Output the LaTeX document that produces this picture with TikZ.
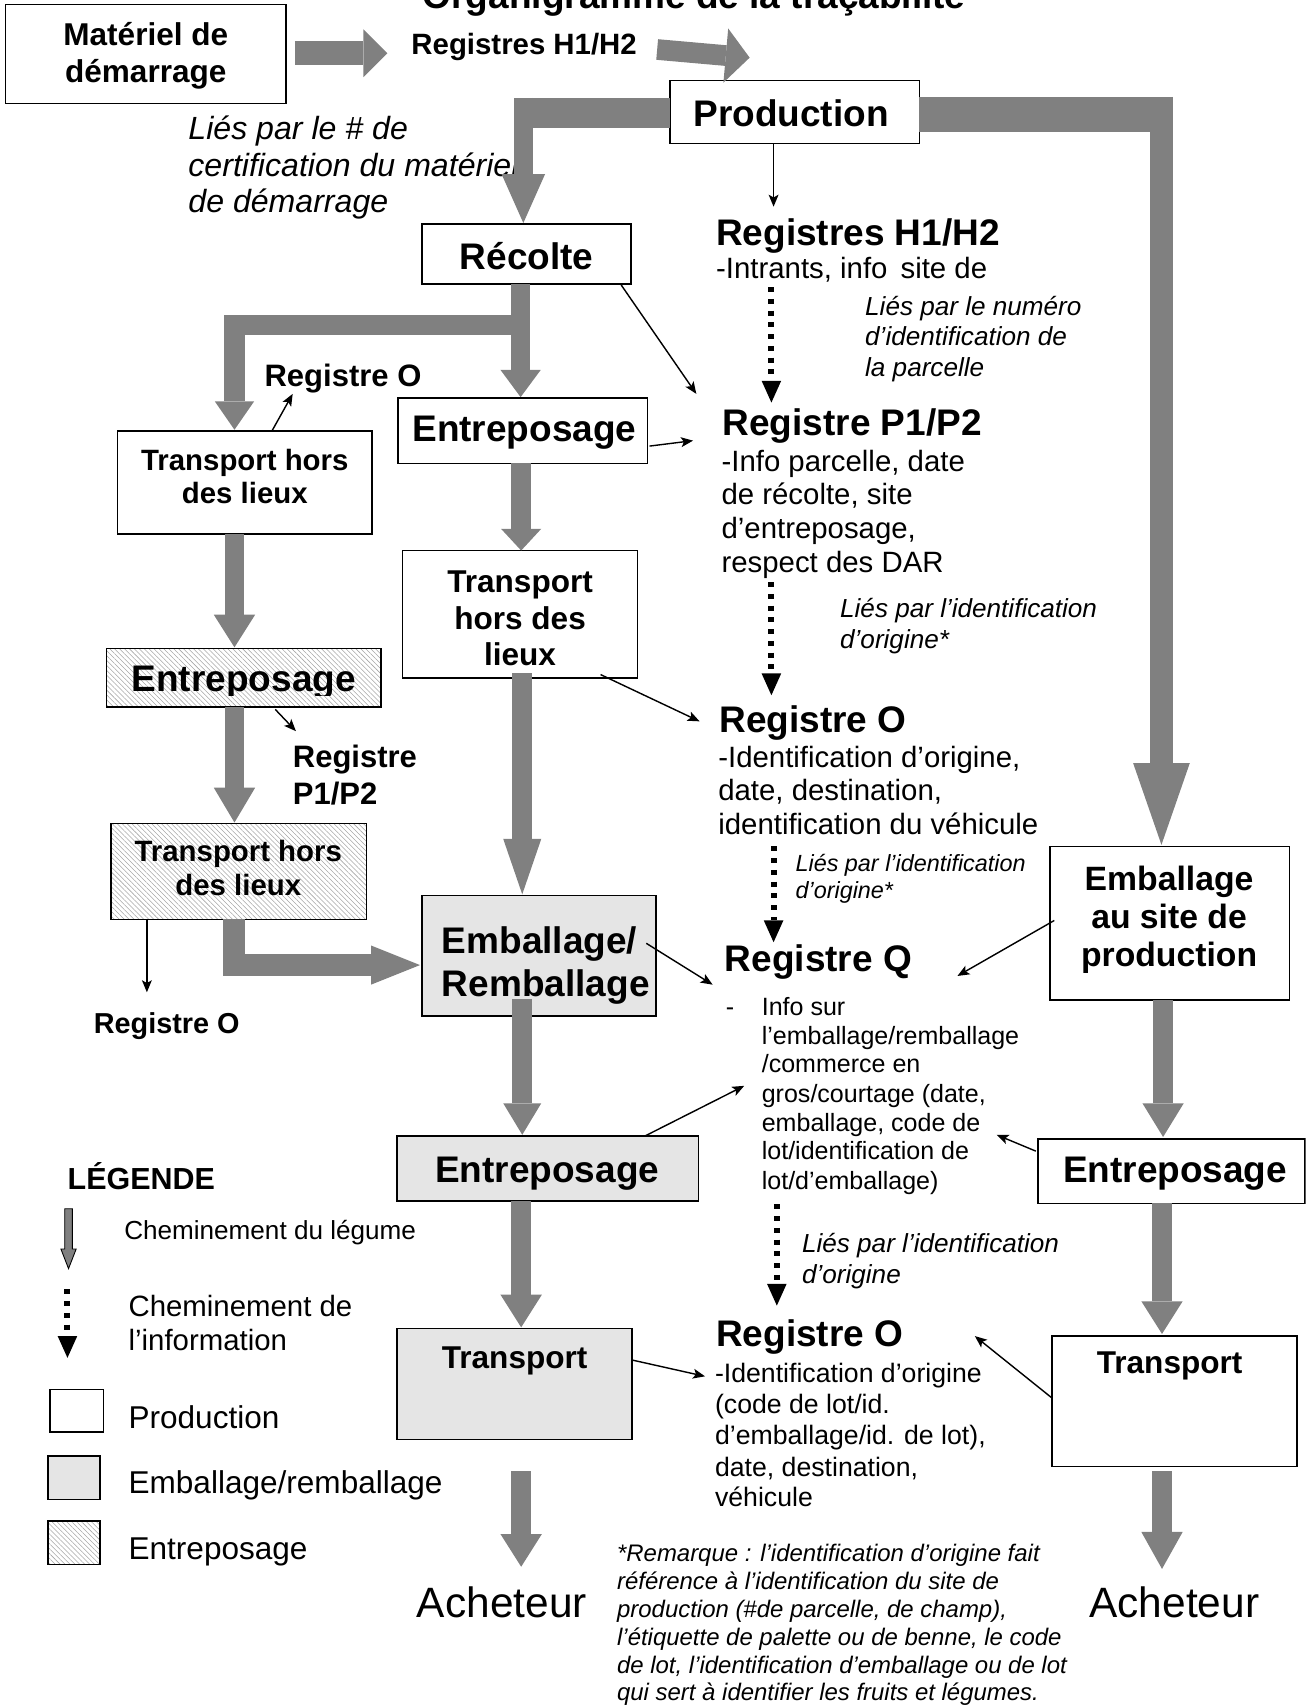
\documentclass[tikz,border=0pt]{standalone}
\usepackage{fontspec}
\setmainfont{Liberation Sans}
\usetikzlibrary{arrows.meta,patterns.meta}
\newcommand\fsz[1]{\fontsize{#1}{#1}\selectfont}
\newcommand\mkbox[6]{\node[#1, minimum width={#5-#3}, minimum height={#6-#4}] (#2) at ({(#3+#5)/2},{(#4+#6)/2}) {};}
\tikzset{
  box/.style={draw, line width=1.4pt, inner sep=0pt, fill=white},
  graybox/.style={box, fill=black!10},
  hatchbox/.style={draw, line width=1.4pt, inner sep=0pt, pattern={Lines[angle=-45,distance=3.2pt,line width=0.5pt]}, pattern color=black!35},
  lbl/.style={inner sep=0pt, anchor=base west},
  ctr/.style={inner sep=0pt, anchor=base},
  fat/.style n args={3}{draw=gray, line width=#1, line cap=butt, -{Triangle[length=#3, width=#2, line width=0pt]}},
  tarr/.style={line width=1.3pt, -{Stealth[length=11pt,width=9pt,inset=2.5pt]}},
  dots/.style={line width=5.5pt, dash pattern=on 4.6pt off 6.2pt, -{Triangle[length=20pt,width=18pt,line width=0pt]}},
  b34/.style={font=\bfseries\fsz{34}},
  b27/.style={font=\bfseries\fsz{27}},
  b29/.style={font=\bfseries\fsz{29}},
  r27/.style={font=\fsz{27}},
  i24/.style={font=\itshape\fsz{24}},
}
\begin{document}
\begin{tikzpicture}[x=1pt,y=-1pt]
\useasboundingbox (0,0) rectangle (1200,1568);
\clip (0,0) rectangle (1200,1568);

% ---------- title ----------
\node[ctr, b34] (title) at (638,8) {Organigramme de la traçabilité};

% ---------- boxes ----------
\mkbox{box}{mat}{5}{4}{263}{95}
\mkbox{box}{prod}{616}{74}{845}{132}
\mkbox{box}{rec}{388}{206}{580}{261}
\mkbox{box}{entM}{366}{366}{595}{426}
\mkbox{box}{trL}{108}{396}{342}{491}
\mkbox{box}{trM}{370}{506}{586}{623}
\mkbox{hatchbox}{entL}{98}{596}{350}{650}
\mkbox{hatchbox}{trLh}{102}{757}{337}{845}
\mkbox{graybox}{emb}{388}{823}{603}{934}
\mkbox{graybox}{entG}{365}{1044}{642}{1104}
\mkbox{graybox}{trG}{365}{1221}{581}{1323}
\mkbox{box}{embS}{965}{778}{1185}{919}
\mkbox{box}{entR}{954}{1047}{1199.3}{1106}
\mkbox{box}{trR}{967}{1228}{1192}{1348}
% legend boxes
\mkbox{box}{legP}{46}{1277}{95}{1316}
\mkbox{graybox}{legE}{44}{1338}{92}{1378}
\mkbox{hatchbox}{legH}{44}{1398}{92}{1438}

% ---------- box texts ----------
\node[ctr, font=\bfseries\fsz{29}] (mat1) at (134,42) {Matériel de};
\node[ctr, font=\bfseries\fsz{29}] (mat2) at (134,76) {démarrage};
\node[ctr, b34] (prodT) at (727,116) {Production};
\node[ctr, b34] (recT) at (484,248) {Récolte};
\node[ctr, b34] (entMT) at (482,406) {Entreposage};
\node[ctr, b27] (trL1) at (225,432) {Transport hors};
\node[ctr, b27] (trL2) at (225,463) {des lieux};
\node[ctr, b29] (trM1) at (478,545) {Transport};
\node[ctr, b29] (trM2) at (478,579) {hors des};
\node[ctr, b29] (trM3) at (478,612) {lieux};
\begin{scope}
  \clip (98,590) rectangle (350,639);
  \node[ctr, b34] (entLT) at (224,636) {Entreposage};
\end{scope}
\node[ctr, b27] (trLh1) at (219,792) {Transport hors};
\node[ctr, b27] (trLh2) at (219,823) {des lieux};
\node[lbl, b34] (emb1) at (406,876) {Emballage/};
\node[lbl, b34] (emb2) at (406,916) {Remballage};
\node[ctr, b34] (entGT) at (503,1087) {Entreposage};
\node[ctr, b29] (trGT) at (473,1258) {Transport};
\node[ctr, font=\bfseries\fsz{31}] (embS1) at (1074.5,818) {Emballage};
\node[ctr, font=\bfseries\fsz{31}] (embS2) at (1074.5,853.5) {au site de};
\node[ctr, font=\bfseries\fsz{31}] (embS3) at (1074.5,888) {production};
\node[ctr, b34] (entRT) at (1080,1087) {Entreposage};
\node[ctr, b29] (trRT) at (1075,1262) {Transport};

% ---------- free labels ----------
\node[lbl, b27] (regTop) at (378,50) {Registres H1/H2};
\node[lbl, font=\itshape\fsz{29.5}] (lie1) at (173,128) {Liés par le \# de};
\node[lbl, font=\itshape\fsz{29.5}] (lie2) at (173,162) {certification du matériel};
\node[lbl, font=\itshape\fsz{29.5}] (lie3) at (173,195) {de démarrage};

\node[lbl, font=\bfseries\fsz{28.5}] (regOa) at (243,355) {Registre O};
\node[lbl, font=\bfseries\fsz{28.5}] (regPa) at (269,705) {Registre};
\node[lbl, font=\bfseries\fsz{28.5}] (regPb) at (269,739) {P1/P2};
\node[lbl, font=\bfseries\fsz{26.5}] (regOb) at (86,950) {Registre O};

% Registres H1/H2
\node[lbl, b34] (h1) at (658,226) {Registres H1/H2};
\node[lbl, r27] (h2) at (658,256) {-Intrants, info\, site de};
\node[lbl, i24] (h3) at (795,290) {Liés par le numéro};
\node[lbl, i24] (h4) at (795,318) {d’identification de};
\node[lbl, i24] (h5) at (795,346) {la parcelle};
% Registre P1/P2
\node[lbl, b34] (p1) at (664,400) {Registre P1/P2};
\node[lbl, r27] (p2) at (663,433) {-Info parcelle, date};
\node[lbl, r27] (p3) at (663,464) {de récolte, site};
\node[lbl, r27] (p4) at (663,495) {d’entreposage,};
\node[lbl, r27] (p5) at (663,526) {respect des DAR};
\node[lbl, i24] (p6) at (772,568) {Liés par l’identification};
\node[lbl, i24] (p7) at (772,596) {d’origine*};
% Registre O
\node[lbl, b34] (o1) at (661,673) {Registre O};
\node[lbl, r27] (o2) at (660,705) {-Identification d’origine,};
\node[lbl, r27] (o3) at (660,736) {date, destination,};
\node[lbl, r27] (o4) at (660,767) {identification du véhicule};
\node[lbl, font=\itshape\fsz{21.5}] (o5) at (731,801) {Liés par l’identification};
\node[lbl, font=\itshape\fsz{21.5}] (o6) at (731,826) {d’origine*};
% Registre Q
\node[lbl, b34] (q1) at (666,893) {Registre Q};
\node[lbl, font=\fsz{23}] (q0) at (667,933) {-};
\node[lbl, font=\fsz{23}] (q2) at (700,933) {Info sur};
\node[lbl, font=\fsz{23}] (q3) at (700,960) {l’emballage/remballage};
\node[lbl, font=\fsz{23}] (q4) at (700,986) {/commerce en};
\node[lbl, font=\fsz{23}] (q5) at (700,1013) {gros/courtage (date,};
\node[lbl, font=\fsz{23}] (q6) at (700,1040) {emballage, code de};
\node[lbl, font=\fsz{23}] (q7) at (700,1066) {lot/identification de};
\node[lbl, font=\fsz{23}] (q8) at (700,1093) {lot/d’emballage)};
\node[lbl, i24] (q9) at (737,1151) {Liés par l’identification};
\node[lbl, i24] (q10) at (737,1180) {d’origine};
% Registre O (bas)
\node[lbl, b34] (ob1) at (658,1238) {Registre O};
\node[lbl, font=\fsz{24.5}] (ob2) at (657,1271) {-Identification d’origine};
\node[lbl, font=\fsz{24.5}] (ob3) at (657,1299) {(code de lot/id.};
\node[lbl, font=\fsz{24.5}] (ob4) at (657,1328) {d’emballage/id. de lot),};
\node[lbl, font=\fsz{24.5}] (ob5) at (657,1357) {date, destination,};
\node[lbl, font=\fsz{24.5}] (ob6) at (657,1385) {véhicule};
% Remarque
\node[lbl, font=\itshape\fsz{22}] (rm1) at (567,1435) {*Remarque : l’identification d’origine fait};
\node[lbl, font=\itshape\fsz{22}] (rm2) at (567,1461) {référence à l’identification du site de};
\node[lbl, font=\itshape\fsz{22}] (rm3) at (567,1487) {production (\#de parcelle, de champ),};
\node[lbl, font=\itshape\fsz{22}] (rm4) at (567,1512) {l’étiquette de palette ou de benne, le code};
\node[lbl, font=\itshape\fsz{22}] (rm5) at (567,1538) {de lot, l’identification d’emballage ou de lot};
\node[lbl, font=\itshape\fsz{22}] (rm6) at (567,1563) {qui sert à identifier les fruits et légumes.};
% Acheteurs
\node[lbl, font=\fsz{39}] (achL) at (383,1487) {Acheteur};
\node[lbl, font=\fsz{39}] (achR) at (1001,1487) {Acheteur};
% Legend
\node[lbl, font=\bfseries\fsz{28}] (leg) at (62,1093) {LÉGENDE};
\node[lbl, font=\fsz{24}] (leg1) at (114,1139) {Cheminement du légume};
\node[lbl, r27] (leg2) at (118,1210) {Cheminement de};
\node[lbl, r27] (leg3) at (118,1241) {l’information};
\node[lbl, font=\fsz{29}] (leg4) at (118,1313) {Production};
\node[lbl, font=\fsz{29}] (leg5) at (118,1373) {Emballage/remballage};
\node[lbl, font=\fsz{29}] (leg6) at (118,1433) {Entreposage};

% ---------- fat grey arrows (flow of the vegetable) ----------
\draw[fat={22pt}{44pt}{22pt}] (271,49) -- (356,49);
\draw[fat={19pt}{50pt}{22pt}] (604,45.5) -- (689,53);
\fill[gray] (472,90) rectangle (616,118);
\draw[fat={18pt}{40pt}{45pt}] (481,90) -- (481,205);
\fill[gray] (845,89) rectangle (1078,121);
\draw[fat={21pt}{52pt}{75pt}] (1067.5,89) -- (1067.5,776.5);
\draw[fat={17.5pt}{37pt}{25pt}] (478.5,261) -- (478.5,365);
\draw[fat={18.5pt}{36pt}{26pt}] (478.5,299) -- (215.5,299) -- (215.5,395);
\draw[fat={18pt}{38pt}{30pt}] (215.5,491) -- (215.5,595);
\draw[fat={18pt}{38pt}{32pt}] (215.5,650) -- (215.5,756);
\draw[fat={19.5pt}{36pt}{45pt}] (215,845) -- (215,887) -- (386,887);
\draw[fat={18pt}{37pt}{20pt}] (479,426) -- (479,506);
\draw[fat={18pt}{35pt}{51pt}] (480,619) -- (480,822);
\draw[fat={18pt}{35pt}{29pt}] (480,918) -- (480,1043);
\draw[fat={18pt}{38pt}{30pt}] (479,1104) -- (479,1220);
\draw[fat={18pt}{38pt}{30pt}] (479,1352) -- (479,1440);
\draw[fat={19pt}{38pt}{31pt}] (1069,919) -- (1069,1045);
\draw[fat={19pt}{38pt}{30pt}] (1068,1106) -- (1068,1226);
\draw[fat={19pt}{38pt}{34pt}] (1068,1352) -- (1068,1442);

% ---------- thin arrows ----------
\draw[tarr] (711,132) -- (711,190);
\draw[tarr] (571,262) -- (640,362);
\draw[tarr] (597,410) -- (637,405);
\draw[tarr] (552,620) -- (643,663);
\draw[tarr] (594,867) -- (655,905);
\draw[tarr] (593,1044) -- (684,998);
\draw[tarr] (969,846) -- (880,897);
\draw[tarr] (952,1058) -- (916,1043);
\draw[tarr] (581,1250) -- (648,1265);
\draw[tarr] (967,1285) -- (896,1228);
\draw[tarr] (250,396) -- (269,362);
\draw[tarr] (253,652) -- (272,672);
\draw[tarr] (135,845) -- (135,912);

% ---------- dotted arrows (flow of information) ----------
\draw[dots] (709,264) -- (709,370);
\draw[dots] (709,535) -- (709,639);
\draw[dots] (711,778) -- (711,866);
\draw[dots] (714,1107) -- (714,1200);
\draw[dots] (62,1185) -- (62,1248);

% legend grey arrow
\draw[fill=gray, line width=0.8pt] (59.5,1111) -- (66.5,1111) -- (66.5,1148) -- (70,1148) -- (63,1166) -- (56,1148) -- (59.5,1148) -- cycle;
\end{tikzpicture}
\end{document}
